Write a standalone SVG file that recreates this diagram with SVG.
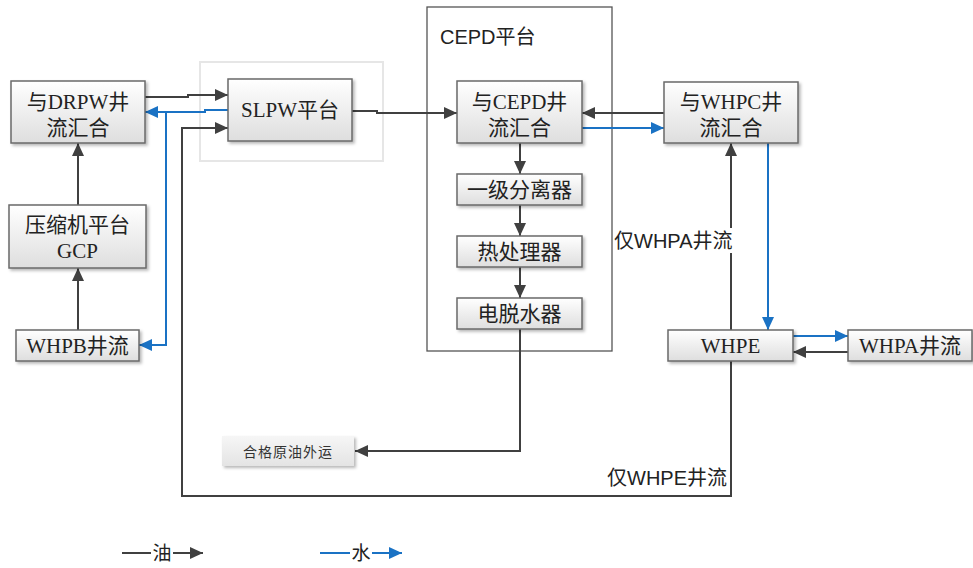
<svg xmlns="http://www.w3.org/2000/svg" width="973" height="568" viewBox="0 0 973 568">
<defs>
<linearGradient id="g" x1="0" y1="0" x2="0" y2="1">
<stop offset="0" stop-color="#ffffff"/>
<stop offset="1" stop-color="#dedede"/>
</linearGradient>
<linearGradient id="g2" x1="0" y1="0" x2="0" y2="1">
<stop offset="0" stop-color="#f6f6f6"/>
<stop offset="1" stop-color="#e4e4e4"/>
</linearGradient>
<filter id="sh" x="-10%" y="-10%" width="130%" height="140%">
<feDropShadow dx="2" dy="2" stdDeviation="1.5" flood-color="#000" flood-opacity="0.28"/>
</filter>
<marker id="ad" viewBox="0 0 13 12" refX="13" refY="6" markerWidth="13" markerHeight="12" markerUnits="userSpaceOnUse" orient="auto">
<path d="M0,0 L13,6 L0,12 z" fill="#404040"/>
</marker>
<marker id="ab" viewBox="0 0 13 12" refX="13" refY="6" markerWidth="13" markerHeight="12" markerUnits="userSpaceOnUse" orient="auto">
<path d="M0,0 L13,6 L0,12 z" fill="#1a72c4"/>
</marker>
<style>
.n{fill:url(#g);stroke:#6a6a6a;stroke-width:1.5;filter:url(#sh)}
.t{font-family:"Liberation Serif","Noto Sans CJK SC",serif;font-size:21px;fill:#222;text-anchor:middle}
.s{font-family:"Liberation Sans","Noto Sans CJK SC",sans-serif;font-size:20px;fill:#222}
.o{fill:none;stroke:#404040;stroke-width:2;marker-end:url(#ad)}
.w{fill:none;stroke:#1a72c4;stroke-width:2;marker-end:url(#ab)}
.on{fill:none;stroke:#404040;stroke-width:2}
.wn{fill:none;stroke:#1a72c4;stroke-width:2}
</style>
</defs>
<rect width="973" height="568" fill="#fff"/>

<g id="slpw-zone">
<rect x="200" y="62" width="183" height="99" fill="none" stroke="#e6e6e6" stroke-width="2"/>
</g>
<g id="cepd-platform">
<rect x="427" y="7" width="185" height="344" fill="none" stroke="#555" stroke-width="1.3"/>
<text class="s" x="440" y="44">CEPD平台</text>
</g>

<g id="connectors">
<path class="o" d="M145,97 H188 V95 H228"/>
<path class="o" d="M731,361 V496 H182 V128 H228"/>
<path class="o" d="M78,205 V143"/>
<path class="o" d="M78,330 V268"/>
<path class="o" d="M352,111 H377 V113 H457"/>
<path class="o" d="M520,143 V174"/>
<path class="o" d="M520,205 V236"/>
<path class="o" d="M520,267 V298"/>
<path class="o" d="M520,329 V451 H355"/>
<path class="o" d="M664,113 H582"/>
<path class="o" d="M731,330 V143"/>
<path class="o" d="M848,352 H793"/>
<path class="w" d="M228,110 H205 V112 H145"/>
<path class="w" d="M166,112 V345 H139"/>
<path class="w" d="M582,128 H664"/>
<path class="w" d="M768,143 V330"/>
<path class="w" d="M793,336 H848"/>
</g>

<g id="drpw">
<rect class="n" x="11" y="81" width="134" height="62"/>
<text class="t" x="78" y="109">与DRPW井</text>
<text class="t" x="78" y="135">流汇合</text>
</g>
<g id="gcp">
<rect class="n" x="9" y="205" width="137" height="63"/>
<text class="t" x="77.5" y="232">压缩机平台</text>
<text class="t" x="77.5" y="258">GCP</text>
</g>
<g id="whpb">
<rect class="n" x="16" y="330" width="123" height="31"/>
<text class="t" x="77.5" y="353">WHPB井流</text>
</g>
<g id="slpw">
<rect class="n" x="228" y="79" width="124" height="62"/>
<text class="t" x="290" y="117">SLPW平台</text>
</g>
<g id="cepd-mix">
<rect class="n" x="457" y="81" width="125" height="62"/>
<text class="t" x="519.5" y="109">与CEPD井</text>
<text class="t" x="519.5" y="135">流汇合</text>
</g>
<g id="sep1">
<rect class="n" x="457" y="174" width="125" height="31"/>
<text class="t" x="519.5" y="197">一级分离器</text>
</g>
<g id="heater">
<rect class="n" x="457" y="236" width="125" height="31"/>
<text class="t" x="519.5" y="259">热处理器</text>
</g>
<g id="dehydrator">
<rect class="n" x="457" y="298" width="125" height="31"/>
<text class="t" x="519.5" y="321">电脱水器</text>
</g>
<g id="whpc">
<rect class="n" x="664" y="82" width="134" height="61"/>
<text class="t" x="731" y="109">与WHPC井</text>
<text class="t" x="731" y="135">流汇合</text>
</g>
<g id="whpe">
<rect class="n" x="668" y="330" width="125" height="31"/>
<text class="t" x="730.5" y="353">WHPE</text>
</g>
<g id="whpa">
<rect class="n" x="848" y="330" width="124" height="31"/>
<text class="t" x="910" y="353">WHPA井流</text>
</g>
<g id="export">
<rect x="222" y="436" width="132" height="30" fill="url(#g2)" filter="url(#sh)"/>
<text x="288" y="457" font-family="Liberation Serif,Noto Sans CJK SC,serif" font-size="14" fill="#333" text-anchor="middle" letter-spacing="1">合格原油外运</text>
</g>

<g id="labels">
<rect x="613" y="228" width="124" height="25" fill="#fff"/>
<text class="s" x="614" y="248">仅WHPA井流</text>
<text class="s" x="607" y="485">仅WHPE井流</text>
</g>

<g id="legend">
<path class="on" d="M122,553 H151"/>
<text x="162" y="560" font-family="Liberation Serif,Noto Sans CJK SC,serif" font-size="19" fill="#222" text-anchor="middle">油</text>
<path class="o" d="M173,553 H203"/>
<path class="wn" d="M320,553 H350"/>
<text x="361" y="560" font-family="Liberation Serif,Noto Sans CJK SC,serif" font-size="19" fill="#222" text-anchor="middle">水</text>
<path class="w" d="M372,553 H402"/>
</g>
</svg>
